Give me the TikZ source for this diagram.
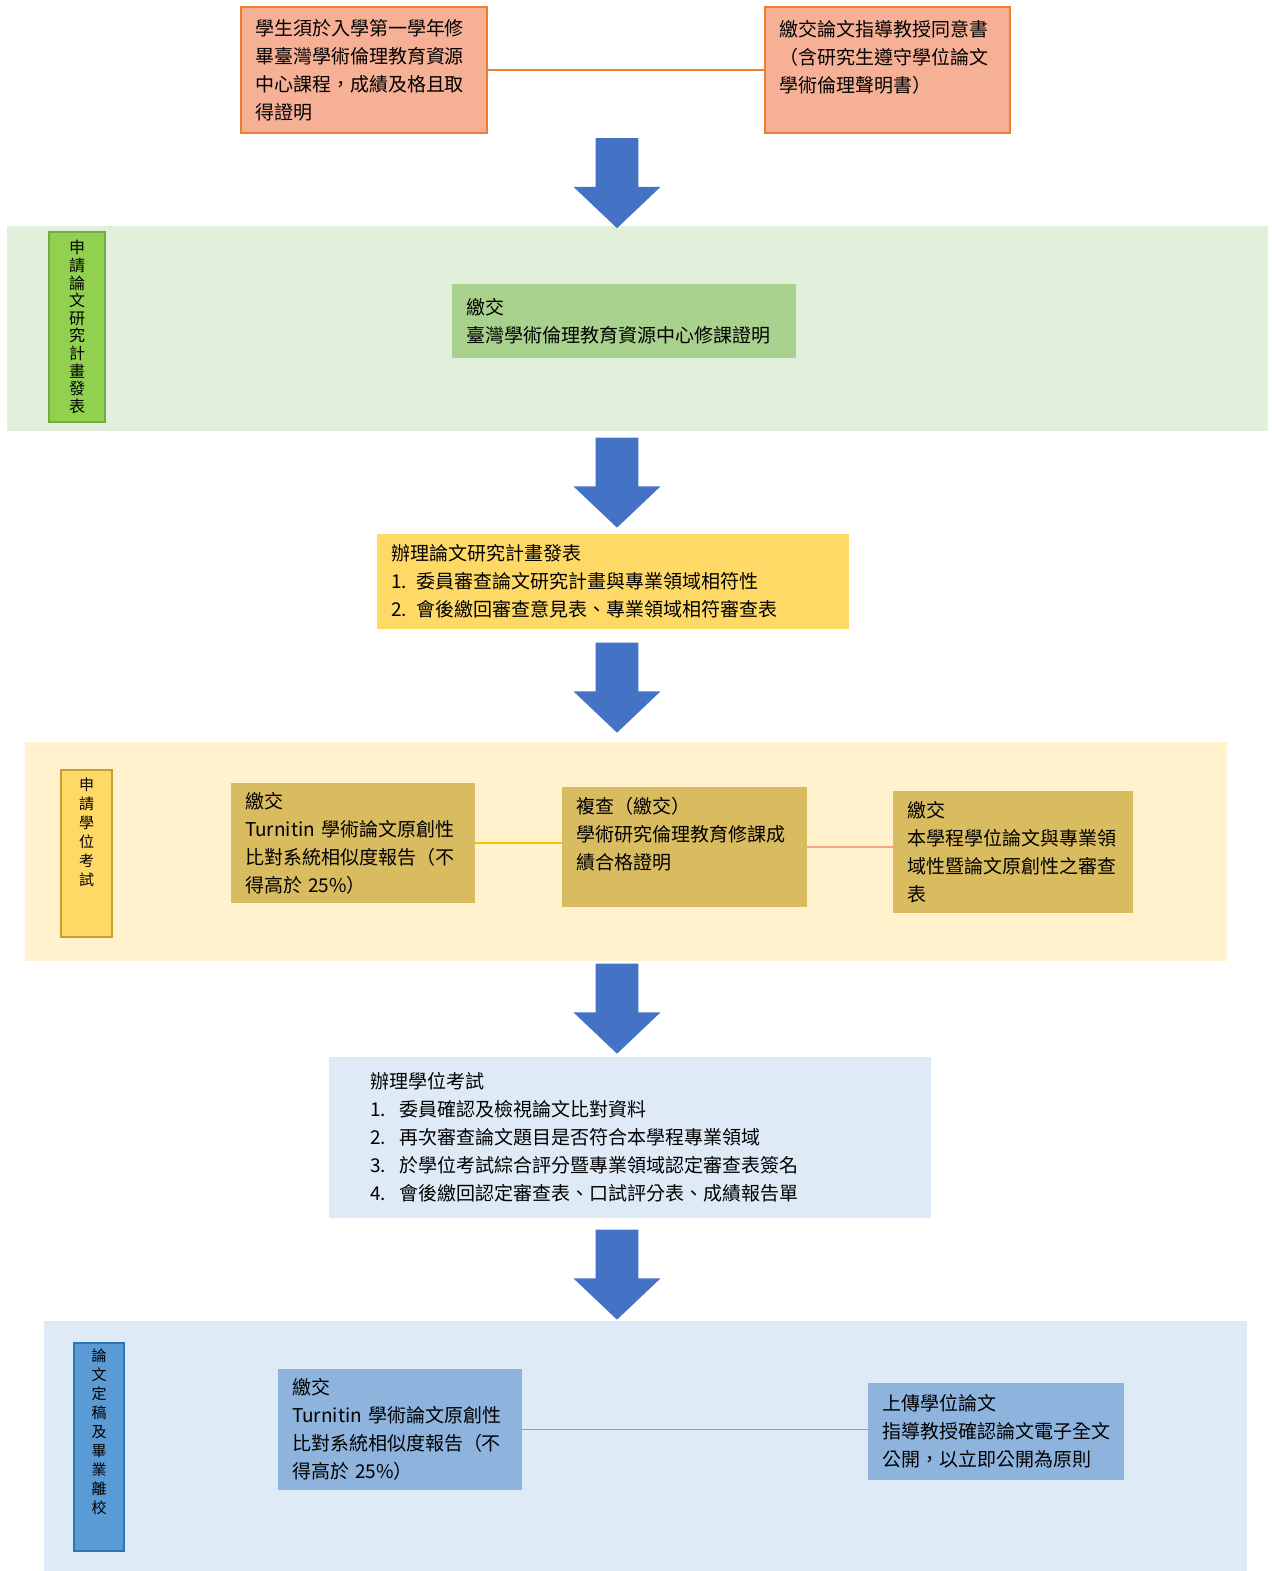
\documentclass[tikz,border=0pt]{standalone}
\usepackage{fontspec}
\setmainfont{Noto Sans CJK TC}
\usepackage{tikz}
\usetikzlibrary{positioning, shapes.arrows}

\definecolor{reqfill}{HTML}{F6B096}
\definecolor{reqline}{HTML}{ED7D31}
\definecolor{arrowblue}{HTML}{4472C4}
\definecolor{greenband}{HTML}{E2EFDA}
\definecolor{greenlab}{HTML}{92D050}
\definecolor{greenlabline}{HTML}{70AD47}
\definecolor{certfill}{HTML}{A9D18E}
\definecolor{planfill}{HTML}{FFD966}
\definecolor{yellowband}{HTML}{FFF2CC}
\definecolor{yellowlabline}{HTML}{C8A032}
\definecolor{goldbox}{HTML}{D9BB60}
\definecolor{abline}{HTML}{FFC000}
\definecolor{bcline}{HTML}{F4A582}
\definecolor{blueband}{HTML}{DEEBF7}
\definecolor{bluelab}{HTML}{5B9BD5}
\definecolor{bluelabline}{HTML}{2E75B6}
\definecolor{bluebox}{HTML}{8EB4DE}
\definecolor{deline}{HTML}{7BA5D6}

\newcommand{\numitem}[1]{\makebox[15pt][l]{#1}}

\tikzset{
  box/.style={rectangle, inner xsep=7pt, inner ysep=0pt, align=left,
    font=\fontsize{9.5}{14}\selectfont},
  band/.style={rectangle, inner sep=0pt},
  vlabel/.style={rectangle, inner sep=0pt, align=center, line width=1pt,
    font=\fontsize{7.5}{9.5}\selectfont},
  bigarrow/.style={single arrow, shape border rotate=270, fill=arrowblue,
    minimum height=45pt, inner sep=10.5pt,
    single arrow head extend=11pt, single arrow tip angle=93},
  link/.style={line width=0.8pt}
}

\begin{document}
\begin{tikzpicture}[x=0.5pt, y=-0.5pt]
\useasboundingbox (0,0) rectangle (1271,1571);

% stage bands
\node[band, fill=greenband, minimum width=630.5pt, minimum height=102.5pt] (stage1) at (637.5,328.5) {};
\node[band, fill=yellowband, minimum width=601pt, minimum height=109.5pt] (stage2) at (626,851.5) {};
\node[band, fill=blueband, minimum width=601.5pt, minimum height=125pt] (stage3) at (645.5,1446) {};

% side labels
\node[vlabel, fill=greenlab, draw=greenlabline, minimum width=28pt, minimum height=95pt,
  font=\fontsize{8}{8.8}\selectfont] (lab1) at (77,327) {申\\請\\論\\文\\研\\究\\計\\畫\\發\\表};
\node[vlabel, fill=planfill, draw=yellowlabline, minimum width=25.5pt, minimum height=83.5pt]
  (lab2) at (86.5,853.5) {申\\請\\學\\位\\考\\試\\[12pt]\mbox{}};
\node[vlabel, fill=bluelab, draw=bluelabline, minimum width=25pt, minimum height=104pt]
  (lab3) at (99,1447) {論\\文\\定\\稿\\及\\畢\\業\\離\\校\\[6pt]\mbox{}};

% before proposal
\node[box, fill=reqfill, draw=reqline, line width=1pt, minimum height=63pt, text width=109pt]
  (course) at (364,70) {學生須於入學第一學年修\\畢臺灣學術倫理教育資源\\中心課程，成績及格且取\\得證明};
\node[box, fill=reqfill, draw=reqline, line width=1pt, minimum height=63pt, text width=108.5pt]
  (consent) at (887.5,70) {繳交論文指導教授同意書\\（含研究生遵守學位論文\\學術倫理聲明書）\\\mbox{}};
\draw[link, reqline] (course) -- (consent);

% proposal
\node[box, fill=certfill, minimum height=37pt, text width=158pt]
  (cert) at (624,321) {繳交\\臺灣學術倫理教育資源中心修課證明};
\node[box, fill=planfill, minimum height=47.5pt, text width=222pt]
  (plan) at (613,581.5) {辦理論文研究計畫發表\\1. 委員審查論文研究計畫與專業領域相符性\\2. 會後繳回審查意見表、專業領域相符審查表};

% degree exam
\node[box, fill=goldbox, minimum height=60pt, text width=108pt]
  (turn1) at (353,843) {繳交\\Turnitin 學術論文原創性\\比對系統相似度報告（不\\得高於 25\%）};
\node[box, fill=goldbox, minimum height=60pt, text width=108.5pt]
  (ethics) at (684.5,847) {複查（繳交）\\學術研究倫理教育修課成\\績合格證明\\\mbox{}};
\node[box, fill=goldbox, minimum height=61pt, text width=106pt]
  (field) at (1013,852) {繳交\\本學程學位論文與專業領\\域性暨論文原創性之審查\\表};
\draw[link, abline] (turn1.east) -- (turn1.east -| ethics.west);
\draw[link, bcline] (ethics.east) -- (ethics.east -| field.west);

\node[box, fill=blueband, inner xsep=20.5pt, minimum height=80.5pt, text width=260pt]
  (exam) at (630,1137.5) {辦理學位考試\\
  \numitem{1.}委員確認及檢視論文比對資料\\
  \numitem{2.}再次審查論文題目是否符合本學程專業領域\\
  \numitem{3.}於學位考試綜合評分暨專業領域認定審查表簽名\\
  \numitem{4.}會後繳回認定審查表、口試評分表、成績報告單};

% final
\node[box, fill=bluebox, minimum height=60.5pt, text width=108pt]
  (turn2) at (400,1429.5) {繳交\\Turnitin 學術論文原創性\\比對系統相似度報告（不\\得高於 25\%）};
\node[box, fill=bluebox, minimum height=48.5pt, text width=114pt]
  (upload) at (996,1431.5) {上傳學位論文\\指導教授確認論文電子全文\\公開，以立即公開為原則};
\draw[link, deline] (turn2.east) -- (turn2.east -| upload.west);

% flow arrows
\node[bigarrow] (arr1) at (617,173) {};
\node[bigarrow] (arr2) at (617,472.5) {};
\node[bigarrow] (arr3) at (617,677.5) {};
\node[bigarrow] (arr4) at (617,998.5) {};
\node[bigarrow] (arr5) at (617,1264.5) {};
\end{tikzpicture}
\end{document}
